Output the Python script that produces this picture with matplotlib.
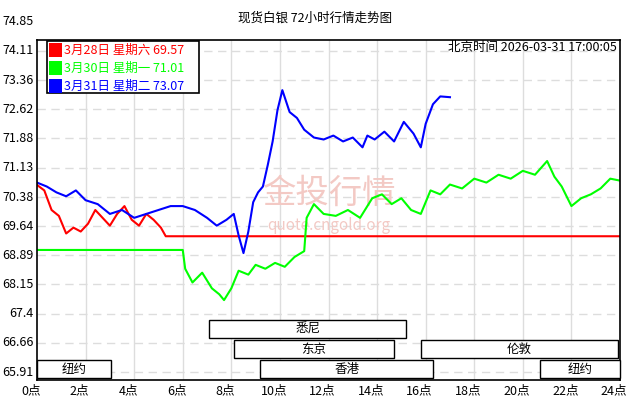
import matplotlib
matplotlib.use("Agg")
import matplotlib.pyplot as plt
from matplotlib.patches import Rectangle

plt.rcParams['font.family'] = ['Noto Sans CJK SC', 'DejaVu Sans']

# hours of day and prices
red_x = [0, 0.3, 0.6, 0.9, 1.2, 1.5, 1.8, 2.1, 2.4, 2.7, 3.0, 3.3, 3.6, 3.9, 4.2, 4.5, 4.8, 5.1, 5.3, 24]
red_y = [70.69, 70.55, 70.05, 69.90, 69.45, 69.60, 69.50, 69.70, 70.05, 69.85, 69.65, 69.95, 70.15, 69.80, 69.65, 69.95, 69.80, 69.60, 69.38, 69.38]

green_x = [0, 6.0, 6.1, 6.4, 6.8, 7.2, 7.5, 7.7, 8.0, 8.3, 8.7, 9.0, 9.4, 9.8, 10.2, 10.6, 11.0, 11.1, 11.4, 11.8, 12.3, 12.8, 13.3, 13.8, 14.2, 14.6, 15.0, 15.4, 15.8, 16.2, 16.6, 17.0, 17.5, 18.0, 18.5, 19.0, 19.5, 20.0, 20.5, 21.0, 21.3, 21.6, 22.0, 22.4, 22.8, 23.2, 23.6, 24.0]
green_y = [69.03, 69.03, 68.55, 68.20, 68.45, 68.05, 67.90, 67.75, 68.05, 68.50, 68.40, 68.65, 68.55, 68.70, 68.60, 68.85, 69.00, 69.85, 70.20, 69.95, 69.90, 70.05, 69.85, 70.35, 70.45, 70.20, 70.35, 70.05, 69.95, 70.55, 70.45, 70.70, 70.60, 70.85, 70.75, 70.95, 70.85, 71.05, 70.95, 71.30, 70.90, 70.65, 70.15, 70.35, 70.45, 70.60, 70.85, 70.80]

blue_x = [0, 0.4, 0.8, 1.2, 1.6, 2.0, 2.5, 3.0, 3.5, 4.0, 4.5, 5.0, 5.5, 6.0, 6.5, 7.0, 7.4, 7.8, 8.1, 8.3, 8.5, 8.7, 8.9, 9.1, 9.3, 9.5, 9.7, 9.9, 10.1, 10.4, 10.7, 11.0, 11.4, 11.8, 12.2, 12.6, 13.0, 13.4, 13.6, 13.9, 14.3, 14.7, 15.1, 15.5, 15.8, 16.0, 16.3, 16.6, 17.0]
blue_y = [70.75, 70.65, 70.50, 70.40, 70.55, 70.30, 70.20, 69.95, 70.05, 69.85, 69.95, 70.05, 70.15, 70.15, 70.05, 69.85, 69.65, 69.80, 69.95, 69.40, 68.95, 69.50, 70.25, 70.50, 70.65, 71.20, 71.80, 72.60, 73.11, 72.55, 72.40, 72.10, 71.90, 71.85, 71.95, 71.80, 71.90, 71.65, 71.95, 71.85, 72.05, 71.80, 72.30, 72.00, 71.65, 72.25, 72.75, 72.95, 72.93]

ytick_vals = [74.85, 74.11, 73.36, 72.62, 71.88, 71.13, 70.38, 69.64, 68.89, 68.15, 67.4, 66.66, 65.91]
ytick_labels = ["74.85", "74.11", "73.36", "72.62", "71.88", "71.13", "70.38", "69.64", "68.89", "68.15", "67.4", "66.66", "65.91"]
xticks = list(range(0, 25, 2))

legend_rows = [("3月28日 星期六 69.57", "#ff0000"), ("3月30日 星期一 71.01", "#00ff00"), ("3月31日 星期二 73.07", "#0000ff")]

# session name, start hour, end hour, row
sessions = [("悉尼", 7.1, 15.2, 2), ("东京", 8.1, 14.7, 1), ("伦敦", 15.8, 23.9, 1),
            ("纽约", 0, 3.05, 0), ("香港", 9.2, 16.3, 0), ("纽约", 20.7, 24, 0)]

fig = plt.figure(figsize=(6.3, 4.0), dpi=100)
ax = fig.add_axes([37 / 630, 20 / 400, 583 / 630, 340 / 400])
ax.set_xlim(0, 24)
ax.set_ylim(65.71, 74.39)

for v in ytick_vals:
    if 65.71 < v < 74.39:
        ax.axhline(v, color="#dddddd", lw=1, ls=(0, (6, 4)), zorder=0)
for h in xticks[1:-1]:
    ax.axvline(h, color="#dddddd", lw=1, zorder=0)

ax.text(0.5, 0.55, "金投行情", transform=ax.transAxes, fontsize=24, color="#f3c9c4", ha="center", va="center", zorder=0)
ax.text(0.5, 0.455, "quote.cngold.org", transform=ax.transAxes, fontsize=11, color="#f3c9c4", ha="center", va="center", zorder=0)

ax.plot(red_x, red_y, color="#ff0000", lw=1.5)
ax.plot(green_x, green_y, color="#00ff00", lw=1.5)
ax.plot(blue_x, blue_y, color="#0000ff", lw=1.5)

ax.set_xticks([])
ax.set_yticks([])
for v, lab in zip(ytick_vals, ytick_labels):
    ax.text(-0.006, v, lab, transform=ax.get_yaxis_transform(), ha="right", va="center", fontsize=9, clip_on=False)
for h in xticks:
    ax.text(h - 0.25, -0.012, f"{h}点", transform=ax.get_xaxis_transform(), ha="center", va="top", fontsize=9, clip_on=False)
for sp in ax.spines.values():
    sp.set_linewidth(1.2)

row_y = [(380 - 378) / 340, (380 - 358) / 340, (380 - 338) / 340]
for name, a, b, r in sessions:
    y0 = row_y[r]
    ax.add_patch(Rectangle((a, y0), b - a, 18 / 340, transform=ax.get_xaxis_transform(), fill=True, fc="white", ec="black", lw=1, clip_on=False, zorder=5))
    ax.text((a + b) / 2, y0 + 9 / 340, name, transform=ax.get_xaxis_transform(), ha="center", va="center", fontsize=9, zorder=6)

ax.add_patch(Rectangle((10 / 583, (380 - 93) / 340), 152 / 583, 52 / 340, transform=ax.transAxes, fc="white", ec="black", lw=1.2, zorder=7))
for i, (txt, col) in enumerate(legend_rows):
    yy = (380 - 50 - i * 18) / 340
    ax.add_patch(Rectangle((12 / 583, yy - 7 / 340), 13 / 583, 14 / 340, transform=ax.transAxes, fc=col, ec="none", zorder=8))
    ax.text(27 / 583, yy, txt, transform=ax.transAxes, color=col, fontsize=9, va="center", zorder=8)

ax.text(0.995, (380 - 47) / 340, "北京时间 2026-03-31 17:00:05", transform=ax.transAxes, ha="right", va="center", fontsize=9)
fig.text(0.5, 1 - 18 / 400, "现货白银 72小时行情走势图", ha="center", va="center", fontsize=9)

fig.savefig("out.png", dpi=100)
